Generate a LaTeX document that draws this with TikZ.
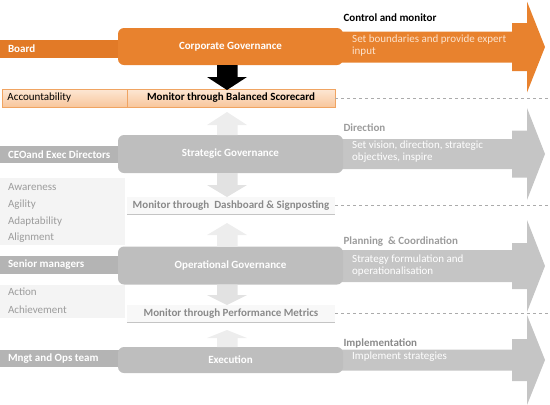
\documentclass[tikz,border=0pt]{standalone}
\usepackage{fontspec}
\setmainfont{Carlito}
\definecolor{govorange}{HTML}{E8822E}
\definecolor{barorange}{HTML}{E27A27}
\definecolor{peach}{HTML}{FCE2CC}
\definecolor{paleorange}{HTML}{FDE7D4}
\definecolor{midorange}{HTML}{F8C69C}
\definecolor{edgeorange}{HTML}{F0A462}
\definecolor{govgray}{HTML}{BEBEBE}
\definecolor{bargray}{HTML}{B4B4B4}
\definecolor{arrowgray}{HTML}{C5C5C5}
\definecolor{textgray}{HTML}{9C9C9C}
\definecolor{monitorgray}{HTML}{8A8A8A}
\definecolor{palegray}{HTML}{F4F4F4}
\definecolor{lightarrow}{HTML}{EDEDED}
\definecolor{sepgray}{HTML}{ABABAB}
\tikzset{
    govbox/.style={rounded corners=6pt, minimum width=225pt, text=white, font=\bfseries\fontsize{11}{13}\selectfont},
    barlabel/.style={anchor=west, text=white, font=\bfseries\fontsize{11}{13}\selectfont},
    monitorbox/.style={minimum width=208pt, minimum height=18pt, inner sep=0pt, font=\bfseries\fontsize{11}{13}\selectfont},
    listitem/.style={anchor=west, text=textgray, font=\fontsize{11}{13}\selectfont},
    phase/.style={anchor=west, font=\bfseries\fontsize{11}{13}\selectfont},
    task/.style={anchor=north west, align=left, inner sep=0pt, font=\fontsize{11}{12}\selectfont},
    sepline/.style={dashed, sepgray, line width=0.6pt}
}
% big arrow to the right: colour, centre, shaft, block and head half heights
\newcommand{\flowarrow}[5]{
    \fill [#1] (330, #2-#3) -- (512, #2-#3) -- (512, #2-#4) -- (527, #2-#4) -- (527, #2-#5)
        -- (545, #2) -- (527, #2+#5) -- (527, #2+#4) -- (512, #2+#4) -- (512, #2+#3) -- (330, #2+#3) -- cycle;
}
% small block arrow: fill, centre x, tip, head base, shaft end
\newcommand{\vblock}[5]{
    \fill [#1] (#2, #3) -- (#2+20, #4) -- (#2+10.5, #4) -- (#2+10.5, #5) -- (#2-10, #5)
        -- (#2-10, #4) -- (#2-20, #4) -- cycle;
}
\begin{document}
\begin{tikzpicture}[x=1pt, y=-1pt]
    \useasboundingbox (0, 0) rectangle (550, 405);
    % arrows to the right
    \flowarrow{govorange}{47}{15.5}{24}{45.5}
    \flowarrow{arrowgray}{154}{15}{23.5}{46}
    \flowarrow{arrowgray}{266}{16}{23}{46}
    \flowarrow{arrowgray}{360}{10.5}{21}{45}
    % left bars
    \fill [barorange] (0, 40) rectangle (122, 58);
    \fill [bargray] (0, 146) rectangle (122, 163);
    \fill [bargray] (0, 256) rectangle (122, 274);
    \fill [bargray] (0, 350) rectangle (122, 367);
    \node (board) [barlabel] at (4.5, 49) {Board};
    \node (ceo) [barlabel] at (4.5, 154.5) {CEOand Exec Directors};
    \node (senior) [barlabel] at (4.5, 265) {Senior managers};
    \node (mngt) [barlabel] at (4.5, 358.5) {Mngt and Ops team};
    % governance boxes
    \node (corp) [govbox, fill=govorange, minimum height=37pt] at (230.5, 46.5) {Corporate Governance};
    \node (strat) [govbox, fill=govgray, minimum height=38pt] at (230.5, 154) {Strategic Governance};
    \node (oper) [govbox, fill=govgray, minimum height=38pt] at (230.5, 265.5) {Operational Governance};
    \node (exec) [govbox, fill=govgray, minimum height=26pt] at (230.5, 360) {Execution};
    % monitoring rows
    \node (acc) [draw=edgeorange, top color=paleorange, bottom color=midorange, minimum width=125pt, minimum height=18pt,
        inner sep=0pt, text width=114pt, align=left, font=\fontsize{11}{13}\selectfont] at (64.5, 98) {Accountability};
    \node (bsc) [monitorbox, draw=edgeorange, top color=paleorange, bottom color=midorange] at (231, 98) {Monitor through Balanced Scorecard};
    \fill [palegray] (0, 178) rectangle (125, 245);
    \fill [palegray] (0, 285) rectangle (125, 318);
    \node (dash) [monitorbox, fill=palegray!60, text=monitorgray] at (231, 205.5) {Monitor through\ \ Dashboard \& Signposting};
    \node (perf) [monitorbox, fill=palegray!60, text=monitorgray] at (231, 313.5) {Monitor through Performance Metrics};
    \draw [sepgray!70, line width=0.8pt] (dash.south west) -- (dash.south east);
    \draw [sepgray!70, line width=0.8pt] (perf.south west) -- (perf.south east);
    \node (aware) [listitem] at (4.5, 187) {Awareness};
    \node (agile) [listitem] at (4.5, 204.5) {Agility};
    \node (adapt) [listitem] at (4.5, 221.5) {Adaptability};
    \node (align) [listitem] at (4.5, 238) {Alignment};
    \node (action) [listitem] at (4.5, 292) {Action};
    \node (achieve) [listitem] at (4.5, 310) {Achievement};
    % separators
    \draw [sepline] (bsc.east) -- ++(215, 0);
    \draw [sepline] (dash.east) -- ++(215, 0);
    \draw [sepline] (perf.east) -- ++(215, 0);
    % arrows between the levels
    \vblock{black}{227}{90}{77}{65}
    \vblock{lightarrow}{227}{112}{125}{135}
    \vblock{lightarrow!90!gray}{227}{197}{185}{173}
    \vblock{lightarrow}{227}{223}{235}{246.5}
    \vblock{lightarrow!90!gray}{227}{305}{295}{284.5}
    \vblock{lightarrow}{227}{330}{338}{347}
    % right hand texts
    \node (control) [phase] at (340, 18) {Control and monitor};
    \node (bounds) [task, text=peach] at (352, 35) {Set boundaries and provide expert\\input};
    \node (direction) [phase, text=textgray] at (340, 128) {Direction};
    \node (vision) [task, text=white] at (352, 141) {Set vision, direction, strategic\\objectives, inspire};
    \node (planning) [phase, text=textgray] at (340, 242) {Planning\ \ \& Coordination};
    \node (formul) [task, text=white] at (352, 255) {Strategy formulation and\\operationalisation};
    \node (implement) [phase, text=monitorgray] at (340, 343) {Implementation};
    \node (strategies) [task, text=white] at (352, 352) {Implement strategies};
\end{tikzpicture}
\end{document}
